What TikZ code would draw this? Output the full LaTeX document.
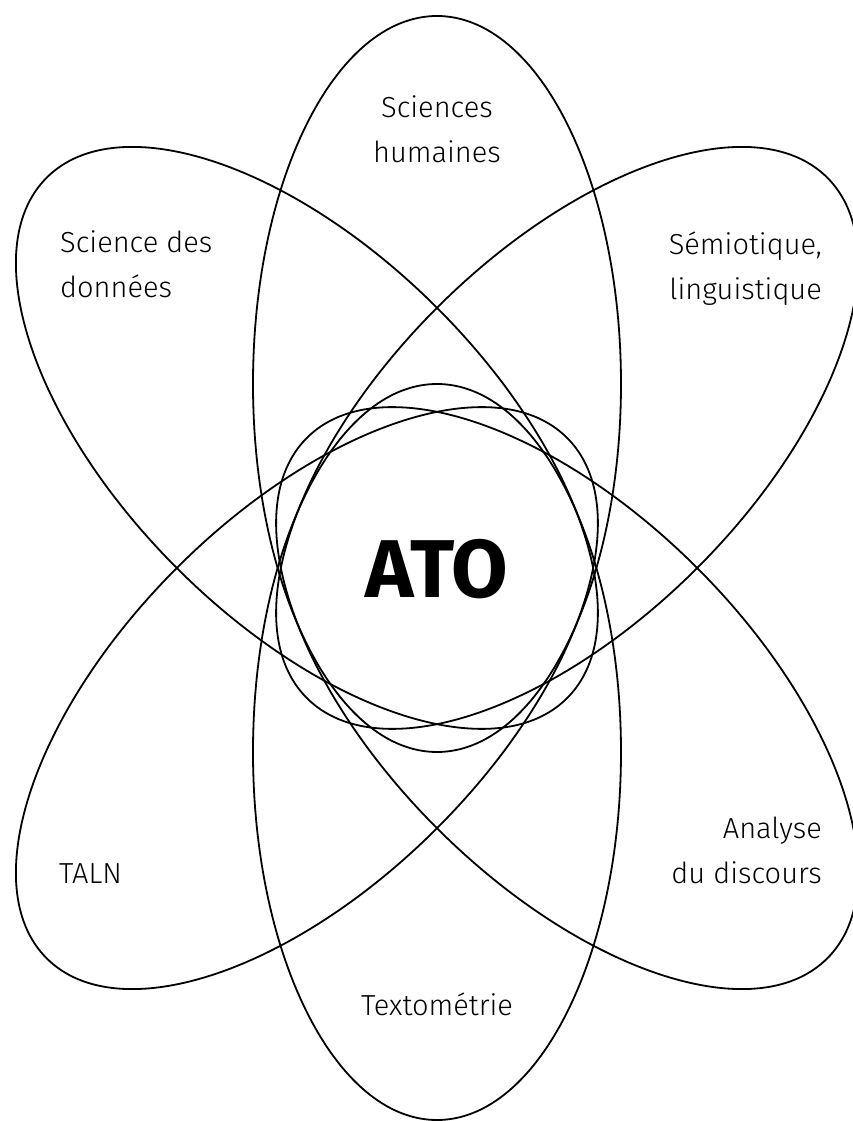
\documentclass[tikz,border=0pt]{standalone}
\usepackage{fontspec}
\setmainfont{Fira Sans Light}[BoldFont={Fira Sans Bold}]
\usetikzlibrary{shapes.geometric}

\begin{document}
\begin{tikzpicture}[x=1pt,y=1pt,
    petal/.style={draw,ellipse,minimum width=736pt,minimum height=368pt,inner sep=0pt,line width=1.8pt},
    lbl/.style={inner sep=0pt,font=\fontsize{29}{45}\selectfont}]
    \useasboundingbox (-437,-553) rectangle (415,568);

    % petals
    \node[petal,rotate=90]  (sh) at (0,184) {};
    \node[petal,rotate=90]  (tx) at (0,-184) {};
    \node[petal,rotate=135] (sd) at (-130.1,130.1) {};
    \node[petal,rotate=45]  (sl) at (130.1,130.1) {};
    \node[petal,rotate=45]  (tl) at (-130.1,-130.1) {};
    \node[petal,rotate=135] (ad) at (130.1,-130.1) {};

    % labels
    \node[lbl,align=center,anchor=base] (shl) at (0,405) {Sciences\\humaines};
    \node[lbl,align=left,anchor=base west] (sdl) at (-377,270) {Science des\\données};
    \node[lbl,align=right,anchor=base east] (sll) at (385,268) {Sémiotique,\\linguistique};
    \node[lbl,anchor=base west] (tll) at (-378,-315) {TALN};
    \node[lbl,align=right,anchor=base east] (adl) at (385,-315) {Analyse\\du discours};
    \node[lbl,anchor=base] (txl) at (0,-447) {Textométrie};
    \node[inner sep=0pt,font=\fontsize{82}{96}\selectfont\bfseries,anchor=base] (ato) at (0,-30) {ATO};
\end{tikzpicture}
\end{document}
